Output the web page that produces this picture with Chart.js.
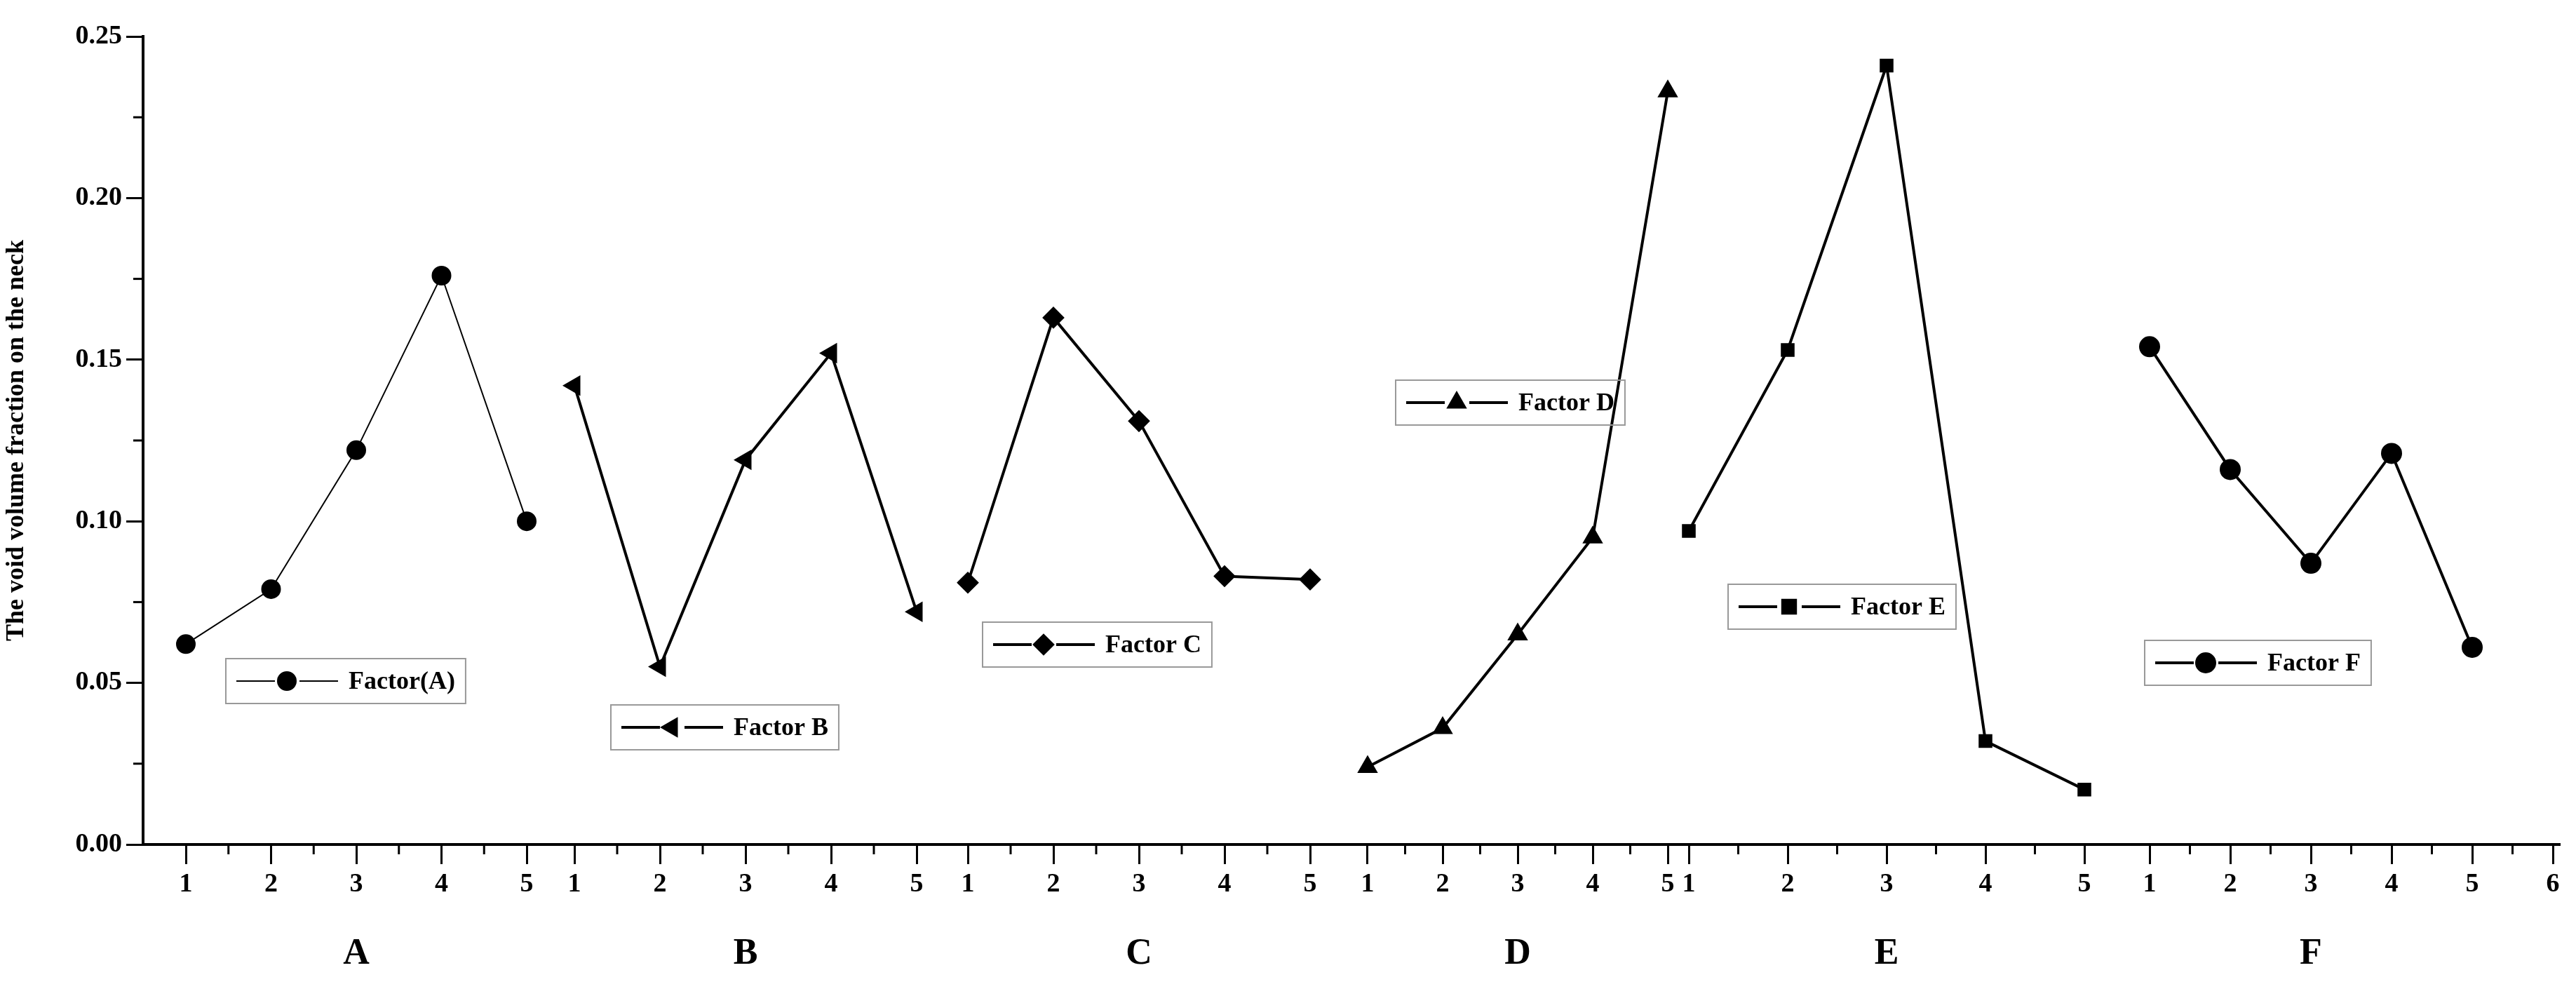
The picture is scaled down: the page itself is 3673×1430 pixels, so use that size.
<!DOCTYPE html>
<html><head><meta charset="utf-8">
<script src="https://cdn.jsdelivr.net/npm/chart.js@4"></script>
<style>html,body{margin:0;padding:0;background:#fff}canvas{display:block}</style>
</head><body><div style="width:3673px;height:1430px"><canvas id="c"></canvas></div>
<script>
const factors = ['A','B','C','D','E','F'];
const levels = [1,2,3,4,5];
const valsA = [0.062,0.079,0.122,0.176,0.100];
const valsB = [0.142,0.055,0.119,0.152,0.072];
const valsC = [0.081,0.163,0.131,0.083,0.082];
const valsD = [0.024,0.036,0.065,0.095,0.233];
const valsE = [0.097,0.153,0.241,0.032,0.017];
const valsF = [0.154,0.116,0.087,0.121,0.061];
const legendNames = ['Factor(A)','Factor B','Factor C','Factor D','Factor E','Factor F'];
const yTicks = [0,0.05,0.10,0.15,0.20,0.25];
// layout: axis position of level 1 and spacing per group (axis units)
const segStart = [61,615,1176,1746,2204,2861];
const segStep = [121.5,122,122,107,141,115];
const segCount = [5,5,5,5,5,6];
const styles = ['circle','triangle','rectRot','triangle','rect','circle'];
const rots = [0,-90,0,0,0,0];
const widths = [2,4,4,4,4,4];
const legendBox = [[322,939],[871,1005],[1401,887],[1990,542],[2464,833],[3058,913]];
const allVals=[valsA,valsB,valsC,valsD,valsE,valsF];
const datasets = allVals.map((v,i)=>({
  label:legendNames[i],
  data:v.map((y,j)=>({x:segStart[i]+segStep[i]*(levels[j]-1),y})),
  borderColor:'#000',backgroundColor:'#000',borderWidth:widths[i],
  pointStyle:styles[i],rotation:rots[i],pointRadius:i===4?11:13,pointHoverRadius:13,tension:0
}));
const majorTicks=[],tickLabels={};
segStart.forEach((s,i)=>{for(let k=0;k<segCount[i];k++){const v=+(s+segStep[i]*k).toFixed(2);majorTicks.push(v);tickLabels[v]=String(k+1);}});
const F='"Liberation Serif", "DejaVu Serif", serif';
const plug={id:'extra',afterDraw(ch){
  const c=ch.ctx,x=ch.scales.x,y=ch.scales.y,b=ch.chartArea.bottom,l=ch.chartArea.left;
  c.save();c.strokeStyle='#000';c.lineWidth=3;
  segStart.forEach((s,i)=>{for(let k=0;k<segCount[i]-1;k++){const px=x.getPixelForValue(s+segStep[i]*(k+0.5));c.beginPath();c.moveTo(px,b);c.lineTo(px,b+14);c.stroke();}});
  for(let k=0;k<5;k++){const py=y.getPixelForValue(0.025+0.05*k);c.beginPath();c.moveTo(l,py);c.lineTo(l-14,py);c.stroke();}
  c.fillStyle='#000';c.font='bold 52px '+F;c.textAlign='center';c.textBaseline='middle';
  factors.forEach((f,i)=>{const mid=segStart[i]+segStep[i]*2;c.fillText(f,x.getPixelForValue(mid),1361);});
  // legends
  legendBox.forEach(([bx,by],i)=>{
    c.font='bold 36px '+F;const tw=c.measureText(legendNames[i]).width;const w=170+tw+20,h=64;
    c.strokeStyle='#999';c.lineWidth=2;c.strokeRect(bx,by,w,h);
    c.strokeStyle='#000';c.lineWidth=widths[i];const cy=by+h/2;
    c.beginPath();c.moveTo(bx+15,cy);c.lineTo(bx+70,cy);c.moveTo(bx+105,cy);c.lineTo(bx+160,cy);c.stroke();
    Chart.helpers.drawPoint(c,{pointStyle:styles[i],rotation:rots[i],radius:13,borderWidth:1},bx+87,cy);
    c.fillStyle='#000';c.fill&&0;c.textAlign='left';c.fillText(legendNames[i],bx+175,cy+2);
  });
  c.restore();
}};
new Chart(document.getElementById('c'),{type:'line',data:{datasets},plugins:[plug],
options:{responsive:true,maintainAspectRatio:false,animation:false,
 layout:{padding:{top:52,right:23,left:0,bottom:0}},
 plugins:{legend:{display:false},tooltip:{enabled:false}},
 scales:{
  x:{type:'linear',min:0,max:3446,
   afterBuildTicks:s=>{s.ticks=majorTicks.map(v=>({value:v}));},
   afterFit:s=>{s.height=226;},
   border:{display:true,color:'#000',width:4},
   grid:{display:true,drawOnChartArea:false,tickLength:28,tickWidth:3,color:'#000'},
   ticks:{autoSkip:false,maxRotation:0,color:'#000',font:{family:F,size:38,weight:'bold'},padding:6,callback:v=>tickLabels[+v.toFixed(2)]??''}},
  y:{min:0,max:0.25,
   afterBuildTicks:s=>{s.ticks=yTicks.map(v=>({value:v}));},
   afterFit:s=>{s.width=204;},
   border:{display:true,color:'#000',width:4},
   grid:{display:true,drawOnChartArea:false,tickLength:24,tickWidth:3,color:'#000'},
   ticks:{color:'#000',font:{family:F,size:38,weight:'bold'},padding:6,callback:v=>v.toFixed(2)},
   title:{display:true,text:'The void volume fraction on the neck',color:'#000',font:{family:F,size:36,weight:'bold'},padding:2}}
 }}});
</script></body></html>
